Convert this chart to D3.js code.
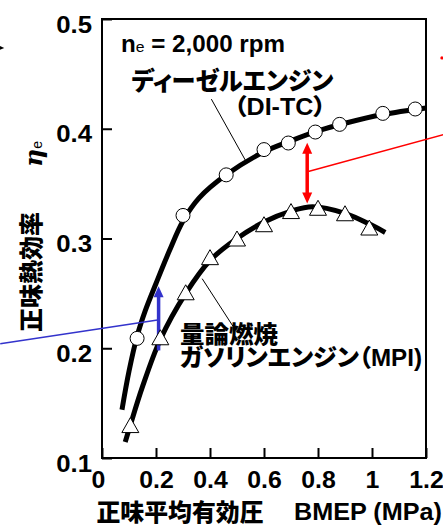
<!DOCTYPE html>
<html>
<head>
<meta charset="UTF-8">
<title>正味熱効率</title>
<script src="https://d3js.org/d3.v7.min.js"></script>
<style>
  body { margin: 0; background: #fff; }
  text { font-family: "Liberation Sans", Arial, sans-serif; font-weight: bold; fill: #000; }
  .jp { font-family: "Noto Sans CJK JP", sans-serif; font-weight: 900; font-feature-settings: "palt"; }
</style>
</head>
<body>
<div id="chart"></div>
<script>
// --- data ---
const xTicks = [0, 0.2, 0.4, 0.6, 0.8, 1, 1.2];
const yTicks = [0.1, 0.2, 0.3, 0.4, 0.5];

// diesel (DI-TC), measured points
const dieselBmep = [0.13, 0.30, 0.46, 0.60, 0.69, 0.79, 0.88, 1.04, 1.16];
const dieselEff  = [0.209, 0.321, 0.358, 0.381, 0.387, 0.397, 0.404, 0.414, 0.418];
// diesel fitted curve
const dieselFitBmep = [0.074, 0.10, 0.13, 0.16, 0.20, 0.25, 0.30, 0.36, 0.46, 0.60, 0.70, 0.80, 0.90, 1.04, 1.20];
const dieselFitEff  = [0.144, 0.179, 0.211, 0.234, 0.259, 0.289, 0.316, 0.337, 0.358, 0.379, 0.389, 0.398, 0.405, 0.413, 0.419];

// gasoline (MPI), measured points
const gasBmep = [0.105, 0.216, 0.31, 0.40, 0.50, 0.60, 0.70, 0.80, 0.90, 0.99];
const gasEff  = [0.130, 0.210, 0.251, 0.283, 0.300, 0.313, 0.325, 0.328, 0.323, 0.310];
// gasoline fitted curve
const gasFitBmep = [0.086, 0.105, 0.15, 0.216, 0.31, 0.40, 0.50, 0.60, 0.70, 0.78, 0.90, 1.00, 1.049];
const gasFitEff  = [0.1145, 0.130, 0.165, 0.208, 0.250, 0.280, 0.300, 0.315, 0.325, 0.329, 0.323, 0.312, 0.3055];

// --- layout ---
const W = 443, H = 527;
const mLeft = 102, mRight = 426, mTop = 19, mBottom = 458;

const svg = d3.select("#chart").append("svg")
  .attr("width", W).attr("height", H);

const x = d3.scaleLinear().domain([0, 1.2]).range([mLeft, mRight]);
const y = d3.scaleLinear().domain([0.1, 0.5]).range([mBottom, mTop]);

const stretch = (sel, k) => sel.each(function () {
  d3.select(this).attr("textLength", this.getComputedTextLength() * k)
    .attr("lengthAdjust", "spacingAndGlyphs");
});
const fit = (sel, w) => sel.attr("textLength", w).attr("lengthAdjust", "spacingAndGlyphs");

// axes (ticks point inward)
const gx = svg.append("g").attr("transform", `translate(0,${mBottom})`)
  .call(d3.axisBottom(x).tickValues(xTicks).tickFormat(d => d).tickSize(-10).tickPadding(14));
const gy = svg.append("g").attr("transform", `translate(${mLeft},0)`)
  .call(d3.axisLeft(y).tickValues(yTicks).tickFormat(d3.format(".1f")).tickSize(-10).tickPadding(10));

[gx, gy].forEach(g => {
  g.select(".domain").remove();
  g.selectAll("line").attr("stroke", "#000").attr("stroke-width", 2);
  g.selectAll("text").attr("font-size", 23).attr("fill", "#000");
});
gy.selectAll("text").attr("dy", 13);
gx.selectAll("text").filter(d => d === 0).attr("dx", -4);
stretch(gx.selectAll("text"), 1.08);
stretch(gy.selectAll("text"), 1.12);

// frame
svg.append("rect")
  .attr("x", mLeft).attr("y", mTop)
  .attr("width", mRight - mLeft).attr("height", mBottom - mTop)
  .attr("fill", "none").attr("stroke", "#000").attr("stroke-width", 2);

// fitted curves
const line = d3.line().x(d => x(d[0])).y(d => y(d[1])).curve(d3.curveCatmullRom.alpha(0.5));
svg.append("path")
  .attr("d", line(d3.zip(dieselFitBmep, dieselFitEff)))
  .attr("fill", "none").attr("stroke", "#000").attr("stroke-width", 5);
svg.append("path")
  .attr("d", line(d3.zip(gasFitBmep, gasFitEff)))
  .attr("fill", "none").attr("stroke", "#000").attr("stroke-width", 5);

// arrows
function arrow(x0, y0, y1, color, both) {
  const g = svg.append("g");
  const hl = 11, hw = 5;
  const px = x(x0), p0 = y(y0), p1 = y(y1);
  const dir = p1 < p0 ? -1 : 1;
  g.append("line")
    .attr("x1", px).attr("x2", px)
    .attr("y1", both ? p0 + dir * hl * 0.8 : p0).attr("y2", p1 - dir * hl * 0.8)
    .attr("stroke", color).attr("stroke-width", 3.5);
  const head = (tip, d) => g.append("path")
    .attr("d", `M${px},${tip} L${px - hw},${tip - d * hl} L${px + hw},${tip - d * hl} Z`)
    .attr("fill", color);
  head(p1, dir);
  if (both) head(p0, -dir);
}

// blue: pointer line from the left and the gain arrow at low load
svg.append("line")
  .attr("x1", x(-0.377)).attr("y1", y(0.204))
  .attr("x2", x(0.206)).attr("y2", y(0.2258))
  .attr("stroke", "#3333cc").attr("stroke-width", 1.5);
arrow(0.2096, 0.198, 0.2564, "#3333cc", false);

// red: pointer line from the right and the double arrow
svg.append("line")
  .attr("x1", x(1.27)).attr("y1", y(0.395))
  .attr("x2", x(0.764)).attr("y2", y(0.361))
  .attr("stroke", "#ff0000").attr("stroke-width", 1.5);
arrow(0.76, 0.332, 0.3873, "#ff0000", true);
svg.append("circle")
  .attr("cx", x(1.259)).attr("cy", y(0.4645)).attr("r", 1.6).attr("fill", "#ff0000");

// black arrow tip at the left edge
svg.append("path")
  .attr("d", `M${x(-0.362)},${y(0.4736)} L${x(-0.362) - 8},${y(0.4736) - 3.5} L${x(-0.362) - 8},${y(0.4736) + 3.5} Z`)
  .attr("fill", "#000");

// leader lines
svg.append("line")
  .attr("x1", x(0.405)).attr("y1", y(0.427)).attr("x2", x(0.534)).attr("y2", y(0.370))
  .attr("stroke", "#000").attr("stroke-width", 1);
svg.append("line")
  .attr("x1", x(0.371)).attr("y1", y(0.2634)).attr("x2", x(0.486)).attr("y2", y(0.2197))
  .attr("stroke", "#000").attr("stroke-width", 1);

// markers
svg.append("g").selectAll("circle")
  .data(d3.zip(dieselBmep, dieselEff))
  .join("circle")
  .attr("cx", d => x(d[0])).attr("cy", d => y(d[1])).attr("r", 7)
  .attr("fill", "#fff").attr("stroke", "#000").attr("stroke-width", 1);

const tw = 8.5, th = 15;
svg.append("g").selectAll("path")
  .data(d3.zip(gasBmep, gasEff))
  .join("path")
  .attr("d", d => {
    const cx = x(d[0]), cy = y(d[1]);
    return `M${cx},${cy - th / 2} L${cx + tw},${cy + th / 2} L${cx - tw},${cy + th / 2} Z`;
  })
  .attr("fill", "#fff").attr("stroke", "#000").attr("stroke-width", 1);

// labels
const ne = svg.append("text").attr("x", 121).attr("y", 51.7).attr("font-size", 23);
ne.append("tspan").text("n");
ne.append("tspan").attr("font-size", 15).attr("font-weight", "normal").text("e");
ne.append("tspan").text(" = 2,000 rpm");
fit(ne, 164);

fit(svg.append("text").attr("class", "jp").attr("x", 131.5).attr("y", 90)
  .attr("font-size", 25).text("ディーゼルエンジン"), 202);

const di = svg.append("text").attr("class", "jp").attr("x", 234).attr("y", 115).attr("font-size", 23);
di.append("tspan").text("（");
di.append("tspan").style("font-family", "'Liberation Sans', Arial, sans-serif").attr("font-weight", "bold").text("DI-TC");
di.append("tspan").text("）");
fit(di, 92);

fit(svg.append("text").attr("class", "jp").attr("x", 180).attr("y", 343)
  .attr("font-size", 24).text("量論燃焼"), 98);

const mpi = svg.append("text").attr("class", "jp").attr("x", 180).attr("y", 365.5).attr("font-size", 24);
mpi.append("tspan").text("ガソリンエンジン（");
mpi.append("tspan").style("font-family", "'Liberation Sans', Arial, sans-serif").attr("font-weight", "bold").text("MPI)");
fit(mpi, 242);

// axis titles
fit(svg.append("text").attr("class", "jp").attr("x", 96.5).attr("y", 521)
  .attr("font-size", 24).text("正味平均有効圧"), 167);
fit(svg.append("text").attr("x", 294).attr("y", 520)
  .attr("font-size", 23).text("BMEP (MPa)"), 148);

fit(svg.append("text").attr("class", "jp")
  .attr("transform", "translate(29.5,272) rotate(-90)")
  .attr("text-anchor", "middle").attr("dominant-baseline", "central")
  .attr("font-size", 24).text("正味熱効率"), 120);

const eta = svg.append("text").attr("transform", "translate(42,167) rotate(-90)");
eta.append("tspan").style("font-family", "'DejaVu Serif', serif").attr("font-style", "italic")
  .attr("font-size", 25).text("η");
eta.append("tspan").attr("font-size", 14).attr("font-weight", "normal").text("e");
</script>
</body>
</html>
